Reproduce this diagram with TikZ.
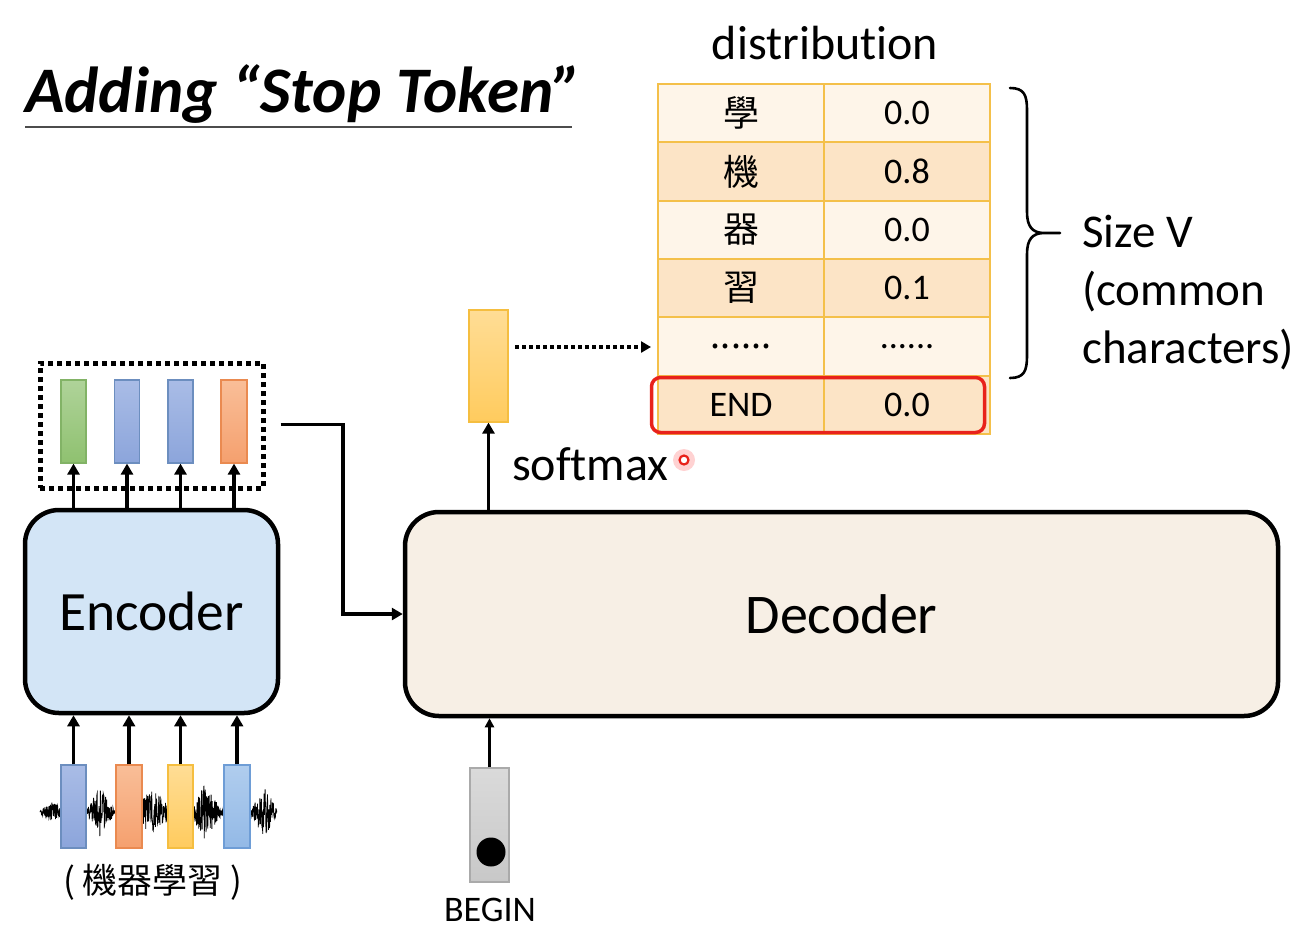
\documentclass[tikz,border=0pt]{standalone}
\usepackage{fontspec}
\setmainfont{Carlito}[Ligatures={NoCommon}]
\newfontfamily\cjk{Noto Sans CJK TC}
\usetikzlibrary{arrows.meta,calc}
\newcommand\mysixdots{......}
\definecolor{encfill}{HTML}{D3E5F6}
\definecolor{decfill}{HTML}{F7EFE5}
\definecolor{gridc}{HTML}{F4C04A}
\definecolor{rowA}{HTML}{FEF5E9}
\definecolor{rowB}{HTML}{FCE4C6}
\definecolor{redbox}{HTML}{E8221B}
\definecolor{grnT}{HTML}{AFD399}\definecolor{grnB}{HTML}{8FC170}\definecolor{grnD}{HTML}{82B366}
\definecolor{bluT}{HTML}{A9BCE6}\definecolor{bluB}{HTML}{8CA5DB}\definecolor{bluD}{HTML}{6C8EBF}
\definecolor{orgT}{HTML}{F9BE98}\definecolor{orgB}{HTML}{F5A06E}\definecolor{orgD}{HTML}{EA8A50}
\definecolor{ylwT}{HTML}{FFDD95}\definecolor{ylwB}{HTML}{FFCB5E}\definecolor{ylwD}{HTML}{F5BE40}
\definecolor{lbT}{HTML}{B0CDEE}\definecolor{lbB}{HTML}{93B9E6}\definecolor{lbD}{HTML}{6E9DD6}
\definecolor{gryT}{HTML}{DADADA}\definecolor{gryB}{HTML}{C8C8C8}\definecolor{gryD}{HTML}{AAAAAA}
\tikzset{
  blockbox/.style={draw=black, line width=4.5pt, rounded corners=34pt, inner sep=0pt},
  vecbox/.style 2 args={draw=#2, line width=1.2pt, top color=#1T, bottom color=#1B, inner sep=0pt},
  arr/.style={line width=3.2pt, -{Triangle[length=11pt,width=12pt]}},
  thinarr/.style={line width=2.6pt, -{Triangle[length=9pt,width=9pt]}},
  cell/.style={draw=gridc, line width=2pt, minimum width=166pt, minimum height=58.33pt, inner sep=0pt, font=\fontsize{36}{40}\selectfont},
  cjkcell/.style={cell, font=\cjk\fontsize{36}{40}\selectfont},
}
\begin{document}
\begin{tikzpicture}[x=1pt,y=-1pt]
\useasboundingbox (0,0) rectangle (1313,932);

% title
\node[anchor=base west, inner sep=0pt, font=\fontsize{65}{70}\selectfont\bfseries\itshape] (title) at (25,112) {Adding “Stop Token”};
\draw[line width=2pt, black!70] (title.base west) ++(0,15) coordinate (ul1) -- (572,127) coordinate (ul2);

% table
\node[font=\fontsize{48}{52}\selectfont, anchor=base] (distlbl) at (825,59) {distribution};
\foreach \i/\c/\v/\f in {1/學/0.0/rowA, 2/機/0.8/rowB, 3/器/0.0/rowA, 4/習/0.1/rowB, 5/\mysixdots/\mysixdots/rowA}{
  \node[cjkcell, fill=\f] (k\i) at (741, {84+58.33*(\i-0.5)}) {\c};
  \node[cell, fill=\f] (p\i) at (907, {84+58.33*(\i-0.5)}) {\v};
}
\node[cell, fill=rowB] (k6) at (741, {84+58.33*5.5}) {END};
\node[cell, fill=rowB] (p6) at (907, {84+58.33*5.5}) {0.0};
\node[draw=redbox, line width=3.5pt, rounded corners=9pt, minimum width=333pt, minimum height=55pt, inner sep=0pt] (endbox) at (818,405) {};

% brace
\draw[line width=2.6pt, line cap=round] (1010,88) .. controls (1024,88) and (1027,95) .. (1027,110) -- (1027,212)
   .. controls (1027,226) and (1032,233) .. (1044,233) -- (1060,233)
   (1044,233) .. controls (1032,233) and (1027,240) .. (1027,254) -- (1027,356)
   .. controls (1027,371) and (1024,378) .. (1010,378);
\node[anchor=base west, align=left, font=\fontsize{47}{58}\selectfont, inner sep=0pt] (sizelbl) at (1082,363) {Size V\\(common\\characters)};

% decoder, softmax vector
\node[blockbox, fill=decfill, minimum width=873pt, minimum height=204pt, font=\fontsize{56}{60}\selectfont] (dec) at (841.5,614) {Decoder};
\node[vecbox={ylw}{ylwD}, minimum width=39pt, minimum height=112pt] (sv) at (488.5,366) {};
\draw[arr] (sv.south |- dec.north) -- (sv.south);
\node[anchor=base west, font=\fontsize{48}{52}\selectfont, inner sep=0pt] (smx) at (512,480) {softmax};
\node[circle, fill=red!22, opacity=0.8, minimum size=22pt, inner sep=0pt] (glow) at (684,460) {};
\node[circle, draw=redbox, line width=2.2pt, fill=white, minimum size=9pt, inner sep=0pt] (dot) at (684,460) {};
\coordinate (dstart) at (515,347);
\draw[line width=3.5pt, dash pattern=on 3.5pt off 3.5pt, -{Triangle[length=10pt,width=11pt]}, shorten >=6pt] (dstart) -- (dstart -| k5.west);

% begin
\node[vecbox={gry}{gryD}, minimum width=39pt, minimum height=114pt] (bv) at (489.5,825) {};
\node[circle, fill=black, minimum size=29pt, inner sep=0pt] (bdot) at (491,852) {};
\draw[thinarr] (bv.north) -- (bv.north |- dec.south);
\node[anchor=base, font=\fontsize{36}{40}\selectfont, inner sep=0pt] (beginlbl) at (490,921) {BEGIN};

% encoder
\node[blockbox, fill=encfill, minimum width=253pt, minimum height=203pt, font=\fontsize{55.5}{60}\selectfont] (enc) at (151.5,611.5) {Encoder};
\node[draw=black, line width=5pt, dash pattern=on 5pt off 4pt, minimum width=223pt, minimum height=125pt, inner sep=0pt] (eobox) at (151.5,425.5) {};
\node[vecbox={grn}{grnD}, minimum width=25pt, minimum height=83pt] (eo1) at (73.5,421.5) {};
\node[vecbox={blu}{bluD}, minimum width=25pt, minimum height=83pt] (eo2) at (127,421.5) {};
\node[vecbox={blu}{bluD}, minimum width=25pt, minimum height=83pt] (eo3) at (180.5,421.5) {};
\node[vecbox={org}{orgD}, minimum width=26pt, minimum height=83pt] (eo4) at (234,421.5) {};
\foreach \k in {1,2,3,4}{\draw[arr] (eo\k.south |- enc.north) -- (eo\k.south);}
\coordinate (cstart) at ($(eobox.east)+(15,-1)$);
\draw[arr] (cstart) -- (343,424.5) |- (dec.west);

% waveform
\pgfmathsetseed{11}
\draw[line width=0.8pt, black] plot[domain=40:277, samples=900]
  (\x, {812 + rand*(2.5 + 8*max(0,1-abs(\x-52)/12) + 22*max(0,1-abs(\x-100)/14) + 24*max(0,1-abs(\x-152)/16) + 16*max(0,1-abs(\x-172)/10) + 26*max(0,1-abs(\x-205)/16) + 24*max(0,1-abs(\x-264)/13))});

% encoder inputs
\node[vecbox={blu}{bluD}, minimum width=25pt, minimum height=83pt] (ei1) at (73.5,806.5) {};
\node[vecbox={org}{orgD}, minimum width=26pt, minimum height=83pt] (ei2) at (129,806.5) {};
\node[vecbox={ylw}{ylwD}, minimum width=25pt, minimum height=83pt] (ei3) at (180.5,806.5) {};
\node[vecbox={lb}{lbD}, minimum width=26pt, minimum height=83pt] (ei4) at (237,806.5) {};
\foreach \k in {1,2,3,4}{\draw[arr] (ei\k.north) -- (ei\k.north |- enc.south);}
\node[anchor=base, font=\cjk\fontsize{35}{40}\selectfont, inner sep=0pt] (inlbl) at (153,893) {(\hspace{8pt}機器學習\hspace{8pt})};
\end{tikzpicture}
\end{document}
